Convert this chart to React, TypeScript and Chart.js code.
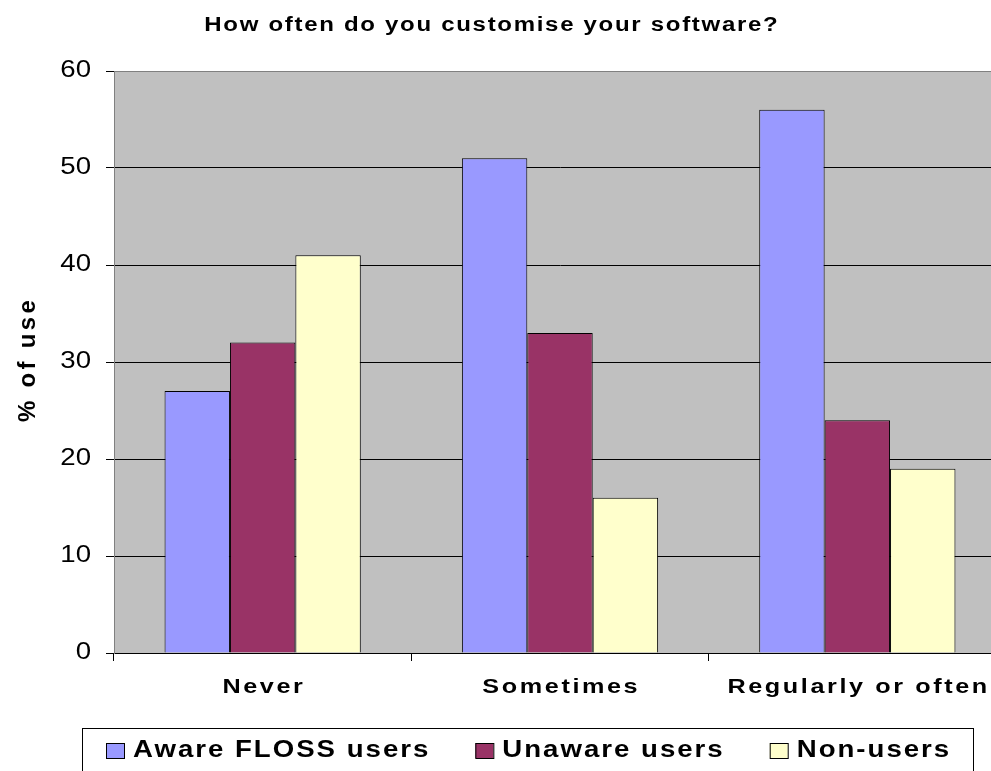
import React, { useEffect, useRef } from "react";
import { Chart, registerables } from "chart.js";

Chart.register(...registerables);

const categories = ["Never", "Sometimes", "Regularly or often"];
const awareFloss = [27, 51, 56];
const unawareUsers = [32, 33, 24];
const nonUsers = [41, 16, 19];
const seriesNames = ["Aware FLOSS users", "Unaware users", "Non-users"];
const seriesColors = ["#9999FF", "#993366", "#FFFFCC"];
const titleText = "How often do you customise your software?";
const yTitleText = "% of users";
const yMin = 0;
const yMax = 60;
const yStep = 10;

const FONT = "'Liberation Sans', Arial, sans-serif";
const CANVAS_W = 1040;
const CANVAS_H = 800;
const STRETCH = 1.2;

function drawStretched(
  ctx: CanvasRenderingContext2D,
  text: string,
  x: number,
  y: number,
  spacing: number,
  align: CanvasTextAlign,
  sx: number = STRETCH
) {
  ctx.save();
  ctx.translate(x, y);
  ctx.scale(sx, 1);
  (ctx as any).letterSpacing = spacing / sx + "px";
  ctx.textAlign = align;
  const dx = align === "center" ? spacing / (2 * sx) : 0;
  ctx.fillText(text, dx, 0);
  ctx.restore();
}

function measureStretched(ctx: CanvasRenderingContext2D, text: string, spacing: number, sx: number = STRETCH) {
  ctx.save();
  (ctx as any).letterSpacing = "0px";
  const w = ctx.measureText(text).width;
  ctx.restore();
  return w * sx + spacing * (text.length - 1);
}

const decorPlugin = {
  id: "decor",
  afterUpdate(chart: any) {
    const ctx = chart.ctx;
    const wrap = (scale: any, spacing: number) => {
      if (!scale || scale.__wrapped) return;
      scale.drawLabels = function (area: any) {
        const items = this.getLabelItems(area);
        for (const item of items) {
          const o = item.options;
          ctx.save();
          ctx.font = item.font.string;
          ctx.fillStyle = o.color;
          ctx.textBaseline = o.textBaseline;
          drawStretched(ctx, String(item.label), o.translation[0], o.translation[1] + item.textOffset, spacing, o.textAlign);
          ctx.restore();
        }
      };
      scale.__wrapped = true;
    };
    wrap(chart.scales.x, 2.6);
    wrap(chart.scales.y, 0);
  },
  beforeDraw(chart: any) {
    const { ctx, chartArea } = chart;
    const { left, top, right, bottom } = chartArea;
    ctx.save();
    ctx.fillStyle = "#FFFFFF";
    ctx.fillRect(0, 0, chart.width, chart.height);
    ctx.fillStyle = "#C0C0C0";
    ctx.fillRect(left, top, right - left, bottom - top);
    ctx.strokeStyle = "#808080";
    ctx.lineWidth = 1;
    ctx.strokeRect(Math.round(left) + 0.5, Math.round(top) + 0.5, right - left, bottom - top);
    ctx.restore();
  },
  afterDraw(chart: any) {
    const { ctx } = chart;
    ctx.save();
    ctx.fillStyle = "#000";
    ctx.textBaseline = "alphabetic";

    // Title
    ctx.font = `bold 20px ${FONT}`;
    drawStretched(ctx, titleText, 491, 31, 1.7, "center");

    // Y-axis title (clipped as in the reference)
    ctx.save();
    ctx.beginPath();
    ctx.rect(0, 297, 70, 400);
    ctx.clip();
    ctx.translate(35, 422);
    ctx.rotate(-Math.PI / 2);
    ctx.font = `bold 24px ${FONT}`;
    (ctx as any).letterSpacing = "3.3px";
    ctx.textAlign = "left";
    ctx.fillText(yTitleText, 0, 0);
    ctx.restore();

    // Legend
    ctx.strokeStyle = "#000";
    ctx.lineWidth = 1;
    ctx.strokeRect(82.5, 728.5, 891, 60);
    ctx.font = `bold 23px ${FONT}`;
    const spacing = 2;
    let x = 106;
    chart.data.datasets.forEach((ds: any) => {
      ctx.fillStyle = ds.backgroundColor;
      ctx.fillRect(x, 743, 18, 15);
      ctx.strokeStyle = "#000";
      ctx.strokeRect(x + 0.5, 743.5, 18, 15);
      ctx.fillStyle = "#000";
      drawStretched(ctx, ds.label, x + 27, 757, spacing, "left");
      const w = measureStretched(ctx, ds.label, spacing);
      x = x + 27 + w + 47;
    });
    ctx.restore();
  },
};

export default function App() {
  const ref = useRef<HTMLCanvasElement | null>(null);

  useEffect(() => {
    document.body.style.margin = "0";
    const canvas = ref.current;
    if (!canvas) return;
    const seriesValues = [awareFloss, unawareUsers, nonUsers];
    const chart = new Chart(canvas, {
      type: "bar",
      data: {
        labels: categories,
        datasets: seriesValues.map((vals, i) => ({
          label: seriesNames[i],
          data: vals,
          backgroundColor: seriesColors[i],
          borderColor: "#000",
          borderWidth: 1,
          categoryPercentage: 0.66,
          barPercentage: 1.0,
        })),
      },
      options: {
        animation: false,
        responsive: false,
        devicePixelRatio: 1,
        events: [],
        layout: {
          padding: { left: 0, top: 71, right: CANVAS_W - 1006, bottom: CANVAS_H - 653 - 60 },
        },
        plugins: {
          legend: { display: false },
          title: { display: false },
          tooltip: { enabled: false },
        },
        scales: {
          x: {
            offset: true,
            grid: {
              offset: true,
              drawOnChartArea: false,
              drawTicks: true,
              tickLength: 8,
              color: "#000",
            },
            border: { display: true, color: "#000", width: 1 },
            ticks: {
              color: "#000",
              padding: 14,
              maxRotation: 0,
              autoSkip: false,
              font: { family: FONT, size: 21, weight: "bold" },
            },
            afterFit(scale: any) {
              scale.height = 60;
            },
          },
          y: {
            min: yMin,
            max: yMax,
            ticks: {
              stepSize: yStep,
              color: "#000",
              padding: 15,
              font: { family: FONT, size: 23 },
            },
            grid: {
              color: (c: any) => (c.tick && c.tick.value === yMax ? "#808080" : "#000"),
              tickColor: "#000",
              tickLength: 8,
              drawTicks: true,
            },
            border: { display: true, color: "#808080", width: 1 },
            afterFit(scale: any) {
              scale.width = 114;
            },
          },
        },
      },
      plugins: [decorPlugin],
    } as any);
    return () => chart.destroy();
  }, []);

  return (
    <div style={{ position: "fixed", left: 0, top: 0, width: 991, height: 771, overflow: "hidden", background: "#fff" }}>
      <canvas ref={ref} width={CANVAS_W} height={CANVAS_H} style={{ width: CANVAS_W, height: CANVAS_H, display: "block" }} />
    </div>
  );
}
